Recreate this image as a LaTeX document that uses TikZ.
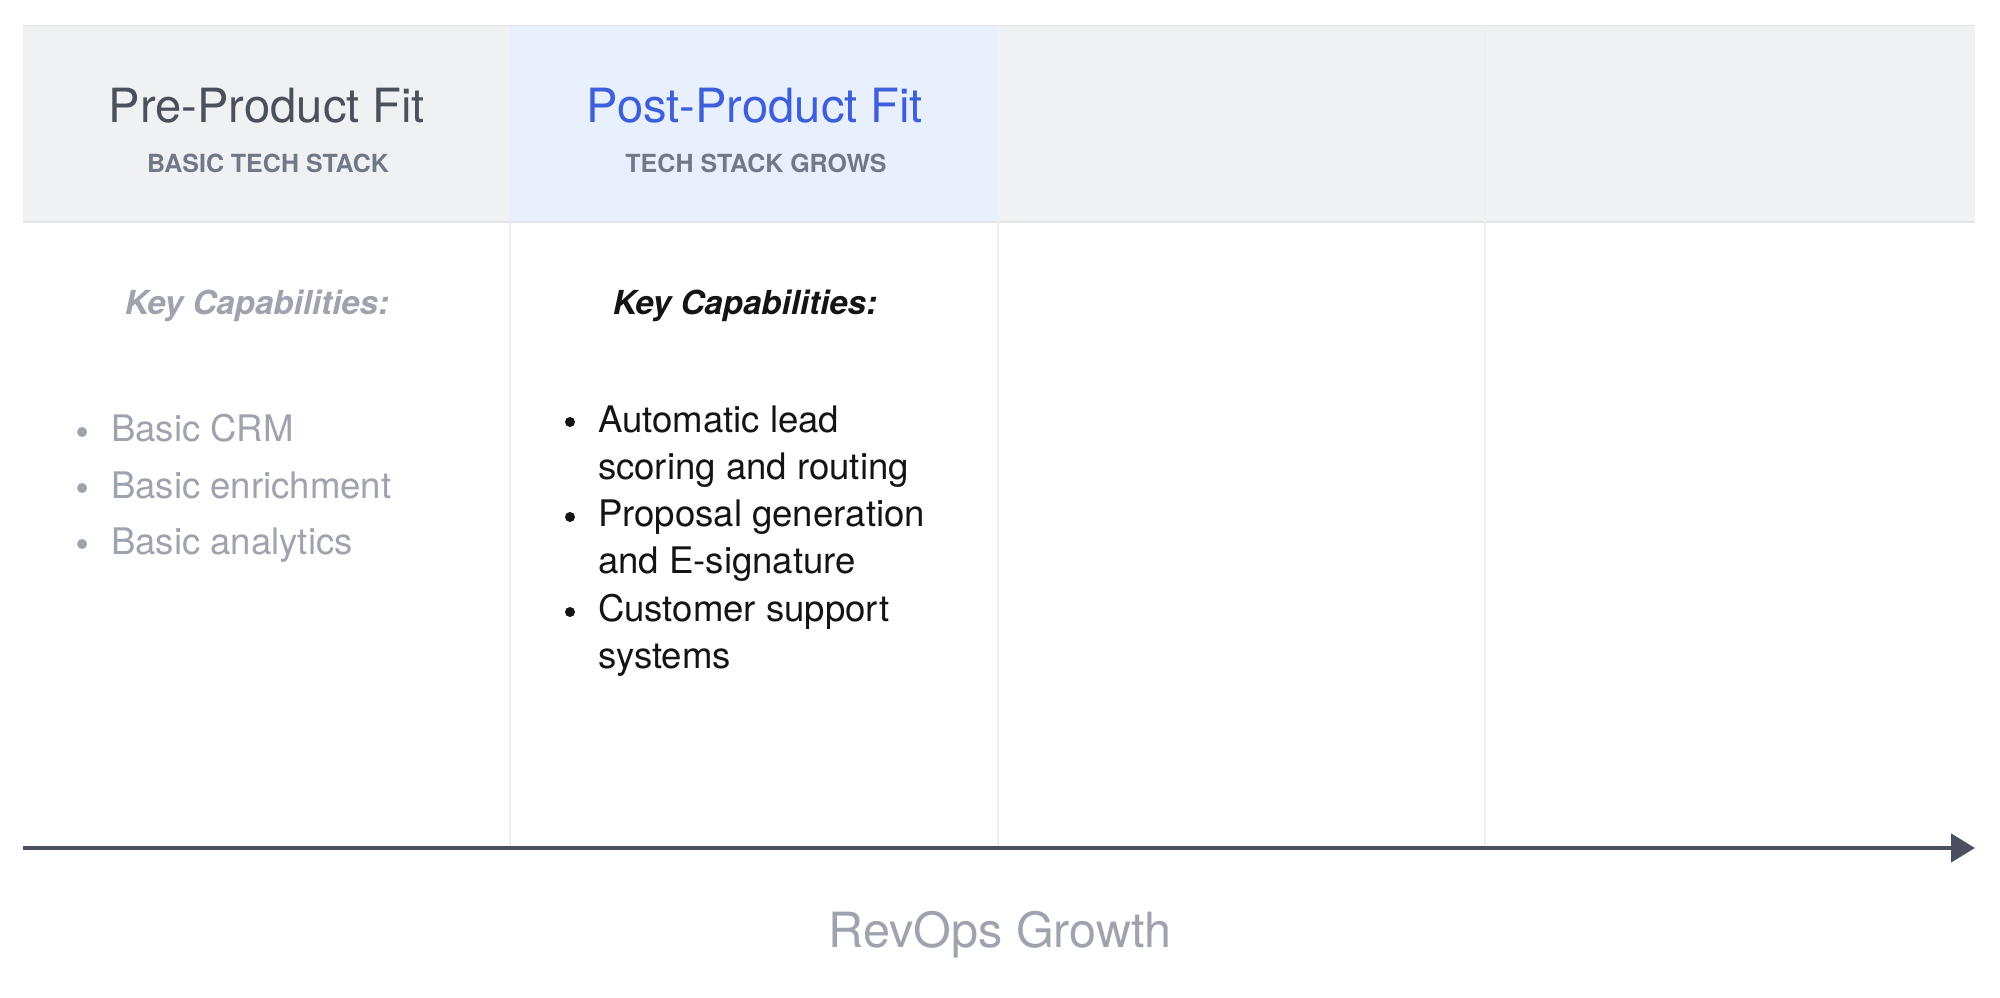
\documentclass[tikz,border=0pt]{standalone}
\usepackage{fontspec}
\setmainfont{TeX Gyre Heros}
\usetikzlibrary{arrows.meta}
\definecolor{hdrgray}{HTML}{F0F1F3}
\definecolor{hdrblue}{HTML}{E8EFFD}
\definecolor{hdrline}{HTML}{E3E5E9}
\definecolor{gridline}{HTML}{EEEFF1}
\definecolor{titledark}{HTML}{4B505D}
\definecolor{titleblue}{HTML}{3D5FDB}
\definecolor{subgray}{HTML}{707889}
\definecolor{mutedgray}{HTML}{9EA3AE}
\definecolor{inkdark}{HTML}{141414}
\definecolor{axisdark}{HTML}{4A5060}
\begin{document}
\begin{tikzpicture}[x=0.01cm,y=-0.01cm,
  every node/.style={inner sep=0pt, outer sep=0pt},
  title/.style={anchor=base, font=\fontsize{13.4}{16}\selectfont},
  subtitle/.style={anchor=base, text=subgray, font=\fontsize{7.1}{9}\selectfont\bfseries},
  keycap/.style={anchor=base, font=\fontsize{9.4}{11}\selectfont\bfseries\itshape},
  item/.style={anchor=base west, font=\fontsize{10.4}{12}\selectfont},
  dot/.style={circle, minimum size=0.1cm, inner sep=0pt},
  gridrule/.style={draw=gridline, line width=0.02cm},
  growth/.style={line width=0.047cm, draw=axisdark, -{Triangle[length=0.24cm,width=0.28cm]}},
]
\useasboundingbox (0,0) rectangle (2000,998);
\fill[white] (0,0) rectangle (2000,998);
% header band
\fill[hdrgray] (23,25) rectangle (1975,222);
\fill[hdrblue] (510,25) rectangle (998,222);
\draw[hdrline, line width=0.015cm] (23,25.5) -- (1975,25.5);
\draw[hdrline, line width=0.025cm] (23,222) -- (1975,222);
% column dividers
\draw[gridrule] (510,222) -- (510,848);
\draw[gridrule] (998,222) -- (998,848);
\draw[gridrule] (1485,25) -- (1485,848);
% header texts
\node[title, text=titledark] (pretitle) at (267,123) {Pre-Product Fit};
\node[subtitle] (presub) at (268,173) {BASIC TECH STACK};
\node[title, text=titleblue] (posttitle) at (755,123) {Post-Product Fit};
\node[subtitle] (postsub) at (756,173) {TECH STACK GROWS};
% key capabilities
\node[keycap, text=mutedgray] (prekey) at (257,315) {Key Capabilities:};
\node[keycap, text=inkdark] (postkey) at (745,315) {Key Capabilities:};
% left list
\node[dot, fill=mutedgray] (pd1) at (82,432) {};
\node[item, text=mutedgray] (pi1) at (111,442) {Basic CRM};
\node[dot, fill=mutedgray] (pd2) at (82,488) {};
\node[item, text=mutedgray] (pi2) at (111,499) {Basic enrichment};
\node[dot, fill=mutedgray] (pd3) at (82,544) {};
\node[item, text=mutedgray] (pi3) at (111,555) {Basic analytics};
% right list
\node[dot, fill=inkdark] (qd1) at (570,422) {};
\node[item, text=inkdark] (qi1a) at (598,433) {Automatic lead};
\node[item, text=inkdark] (qi1b) at (598,480) {scoring and routing};
\node[dot, fill=inkdark] (qd2) at (570,517) {};
\node[item, text=inkdark] (qi2a) at (598,527) {Proposal generation};
\node[item, text=inkdark] (qi2b) at (598,574) {and E-signature};
\node[dot, fill=inkdark] (qd3) at (570,612) {};
\node[item, text=inkdark] (qi3a) at (598,622) {Customer support};
\node[item, text=inkdark] (qi3b) at (598,669) {systems};
% axis
\coordinate (axisL) at (23,848);
\coordinate (axisR) at (1975,848);
\draw[growth] (axisL) -- (axisR);
\node[anchor=base, text=mutedgray, font=\fontsize{13.8}{16}\selectfont] (growthlabel) at (1000,948) {RevOps Growth};
\end{tikzpicture}
\end{document}
